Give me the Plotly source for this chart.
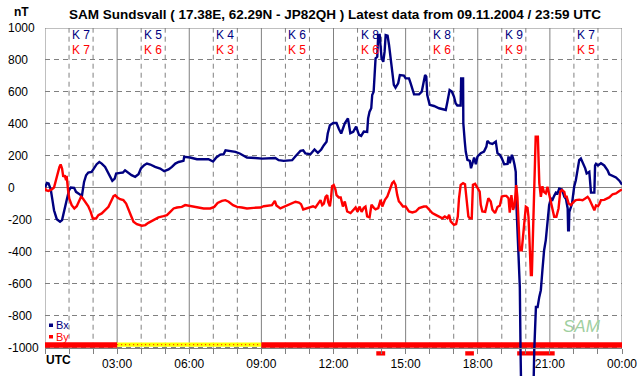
import plotly.graph_objects as go

# ---------------- data ----------------
bx_hours = [0.00, 0.08, 0.15, 0.24, 0.31, 0.375, 0.49, 0.625, 0.71, 0.79, 0.9, 1.0, 1.07, 1.21, 1.29, 1.39, 1.46, 1.53,
            1.57, 1.625, 1.71, 1.8, 1.94, 2.04, 2.15, 2.26, 2.36, 2.5, 2.6, 2.71, 2.8, 2.9, 2.96, 3.125, 3.24, 3.33,
            3.47, 3.6, 3.75, 3.89, 3.99, 4.125, 4.24, 4.38, 4.58, 4.79, 4.96, 5.14, 5.28, 5.42, 5.56, 5.76, 5.79,
            6.04, 6.32, 6.6, 6.8, 6.99, 7.125, 7.29, 7.43, 7.51, 7.71, 7.92, 8.1, 8.26, 8.4, 8.75, 9.03, 9.58, 9.72,
            9.93, 10.28, 10.42, 10.625, 10.74, 10.83, 11.04, 11.21, 11.35, 11.49, 11.6, 11.71, 11.76, 11.85, 11.99,
            12.125, 12.22, 12.32, 12.47, 12.6, 12.7, 12.82, 12.94, 13.06, 13.15, 13.26, 13.4, 13.44, 13.5, 13.57,
            13.61, 13.67, 13.71, 13.75, 13.82, 13.86, 13.92, 13.96, 14.0, 14.07, 14.125, 14.17, 14.25, 14.31,
            14.375, 14.44, 14.51, 14.58, 14.69, 14.76, 14.93, 15.0, 15.14, 15.21, 15.28, 15.35, 15.56, 15.67, 15.74,
            15.81, 15.86, 15.9, 16.0, 16.18, 16.39, 16.67, 16.74, 16.83, 16.92, 17.01, 17.08, 17.15, 17.29, 17.31,
            17.39, 17.4, 17.46, 17.5, 17.57, 17.67, 17.72, 17.78, 17.85, 17.92, 17.99, 18.125, 18.26, 18.36, 18.4,
            18.5, 18.61, 18.75, 18.82, 18.92, 19.0, 19.1, 19.24, 19.28, 19.33, 19.42, 19.47, 19.53, 19.58, 19.6,
            19.69, 19.75, 19.78, 19.82, 20.3, 20.35, 20.42, 20.49, 20.56, 20.625, 20.69, 20.76, 20.83, 20.9, 20.97,
            21.04, 21.11, 21.18, 21.25, 21.32, 21.39, 21.5, 21.6, 21.67, 21.74, 21.76, 21.79, 21.81, 21.92, 22.01,
            22.08, 22.15, 22.22, 22.29, 22.39, 22.47, 22.53, 22.64, 22.71, 22.85, 22.88, 22.92, 23.0, 23.125, 23.26,
            23.4, 23.47, 23.61, 23.75, 23.89, 24.0]
bx_values = [0, 30, 27, -10, -77, -140, -196, -212, -202, -140, -77, -15, 2, 0, -25, -35, -42, -56,
             -10, 37, 79, 96, 100, 121, 148, 162, 152, 131, 100, 69, 44, 58, 90, 94, 96, 110,
             94, 79, 69, 85, 121, 142, 152, 146, 131, 121, 104, 115, 131, 152, 162, 169, 194,
             190, 179, 177, 179, 165, 190, 208, 210, 235, 231, 225, 215, 204, 190, 187, 183, 187, 173,
             169, 173, 198, 231, 235, 215, 210, 240, 219, 240, 267, 288, 340, 392, 406,
             406, 370, 340, 404, 435, 342, 350, 383, 331, 325, 352, 350, 435, 477, 498,
             581, 602, 706, 810, 820, 956, 956, 852, 810, 789, 852, 956, 952, 894,
             810, 717, 644, 627, 654, 706, 702, 685, 685, 654, 612, 585, 585, 602, 654,
             706, 696, 581, 519, 512, 498, 487, 540, 612, 602, 571, 529, 515, 515, 685,
             685, 404, 290, 227, 175, 169, 123, 148, 190, 148, 196, 217, 227, 258, 294,
             279, 275, 290, 217, 206, 185, 148, 150, 196, 154, 206, 185, 144, 100, -77,
             -390, -620, -1016, -1400, -1400, -1016, -745, -745, -682, -640, -515, -390, -327, -202, -108,
             -66, -75, -50, -30, -35, -4, -10, -56, -70, -129, -265, -265, -150, -100, 7,
             48, 111, 174, 184, 153, 122, 90, 100, -30, -30, 140, 150, 140, 154, 140,
             110, 85, 75, 65, 45, 20]

by_hours = [0.0, 0.04, 0.14, 0.28, 0.375, 0.46, 0.51, 0.6, 0.65, 0.71, 0.76, 0.82, 0.875, 0.9, 0.96, 1.01, 1.11,
            1.22, 1.32, 1.43, 1.5, 1.57, 1.67, 1.8, 1.9, 1.99, 2.125, 2.22, 2.36, 2.5, 2.64, 2.74, 2.85, 2.92,
            3.01, 3.125, 3.26, 3.375, 3.47, 3.57, 3.68, 3.82, 4.03, 4.17, 4.3, 4.44, 4.58, 4.72, 4.93, 5.07,
            5.21, 5.35, 5.49, 5.69, 5.83, 6.04, 6.32, 6.6, 6.875, 7.04, 7.18, 7.36, 7.5, 7.64, 7.82, 7.99,
            8.19, 8.4, 8.68, 8.96, 9.1, 9.31, 9.44, 9.56, 9.625, 9.79, 9.93, 10.07, 10.21, 10.42, 10.56,
            10.65, 10.74, 10.875, 11.04, 11.15, 11.25, 11.35, 11.46, 11.53, 11.6, 11.67, 11.74, 11.78, 11.85,
            11.9, 11.94, 12.01, 12.08, 12.125, 12.22, 12.3, 12.39, 12.47, 12.57, 12.71, 12.8, 12.92, 13.0,
            13.08, 13.17, 13.26, 13.33, 13.4, 13.5, 13.58, 13.68, 13.75, 13.86, 13.96, 14.03, 14.14, 14.24,
            14.31, 14.375, 14.44, 14.51, 14.58, 14.65, 14.72, 14.79, 14.89, 15.0, 15.14, 15.28, 15.42, 15.56,
            15.76, 15.86, 15.97, 16.11, 16.25, 16.39, 16.53, 16.63, 16.74, 16.81, 16.875, 17.01, 17.1, 17.17,
            17.22, 17.29, 17.39, 17.47, 17.53, 17.61, 17.67, 17.75, 17.8, 17.89, 17.99, 18.08, 18.125, 18.19,
            18.31, 18.375, 18.44, 18.54, 18.61, 18.72, 18.82, 18.92, 19.0, 19.1, 19.19, 19.28, 19.33, 19.4,
            19.47, 19.53, 19.6, 19.65, 19.69, 19.75, 19.83, 19.89, 19.93, 20.0, 20.07, 20.11, 20.14, 20.18,
            20.21, 20.25, 20.28, 20.31, 20.35, 20.39, 20.41, 20.5, 20.53, 20.56, 20.625, 20.69, 20.75, 20.83,
            20.9, 20.97, 21.04, 21.11, 21.18, 21.27, 21.36, 21.4, 21.43, 21.5, 21.6, 21.65, 21.69, 21.78,
            21.875, 21.97, 22.08, 22.22, 22.36, 22.47, 22.57, 22.64, 22.71, 22.78, 22.85, 22.92, 23.0, 23.06,
            23.125, 23.26, 23.4, 23.47, 23.61, 23.75, 23.89, 24.0]
by_values = [0, -15, -19, -10, 2, 48, 90, 131, 146, 121, 69, 79, 48, 75, -15, -67, -108,
             -129, -115, -77, -56, -66, -87, -115, -150, -192, -192, -171, -160, -140, -119, -87, -52, -46,
             -60, -71, -77, -98, -129, -171, -212, -227, -237, -233, -219, -206, -198, -185, -177, -171,
             -150, -129, -123, -119, -108, -115, -123, -129, -129, -119, -94, -81, -77, -87, -108, -119,
             -123, -129, -125, -123, -115, -110, -108, -81, -110, -129, -119, -108, -98, -87, -92,
             -102, -135, -129, -119, -115, -123, -98, -77, -108, -98, -56, -46, -90, -115,
             -60, 10, 17, -10, -46, -60, -60, -117, -85, -148, -158, -140, -123, -150,
             -117, -150, -125, -117, -179, -185, -106, -125, -135, -127, -75, -117, -75, -54,
             -23, 8, 29, 40, 19, -44, -85, -96, -117, -117, -148, -154, -148, -127,
             -117, -117, -138, -158, -169, -179, -190, -179, -190, -169, -210, -231, -227, -179,
             -65, 19, 29, 23, -85, -179, -190, -190, 19, 25, 0, -23, -106, -148,
             -150, -106, -65, -85, -137, -158, -120, -110, -54, -50, -50, -65, -155, -46,
             -137, -110, 17, -60, -223, -390, -390, -285, -223, -118, -125, -181, -285, -432,
             -546, -546, -348, -139, 111, 236, 320, 320, 200, 30, -56, 10, -25, -35,
             7, -40, -77, -120, -181, -181, -129, -70, -25, -14, -25, -60, -50, -98,
             -108, -90, -77, -74, -77, -67, -56, -70, -96, -120, -140, -110, -115, -100,
             -77, -75, -65, -60, -40, -35, -20, -10]

k_centers = [1.5, 4.5, 7.5, 10.5, 13.5, 16.5, 19.5, 22.5]
k_bx = [7, 5, 4, 6, 8, 8, 9, 7]
k_by = [7, 6, 3, 5, 6, 6, 9, 5]

y_ticks = [1000, 800, 600, 400, 200, 0, -200, -400, -600, -800, -1000]
x_hours = list(range(25))
x_labels = ["" if (h % 3 or h == 0) else f"{h % 24:02d}:00" for h in x_hours]

status_start = [0, 3, 9]
status_end = [3, 9, 24]
status_kind = ["ok", "partial", "ok"]

alert_start = [13.78, 17.48, 19.64]
alert_end = [14.15, 17.84, 21.2]

# ---------------- styling ----------------
NAVY = "#000080"
RED = "#FF0000"
GRID = "#808080"
FONT = "Liberation Sans, Arial, sans-serif"
Y_MIN, Y_MAX = -1177, 1000
W, H = 642, 376
ML, MR, MT, MB = 45, 20, 28, 0
PW, PH = W - ML - MR, H - MT - MB


def px_x(p):
    return (p - ML) / PW


def px_y(p):
    return (H - MB - p) / PH


fig = go.Figure()
fig.add_trace(go.Scatter(x=bx_hours, y=bx_values, mode="lines", name="Bx",
                         line=dict(color=NAVY, width=2.4), showlegend=False))
fig.add_trace(go.Scatter(x=by_hours, y=by_values, mode="lines", name="By",
                         line=dict(color=RED, width=2.4), showlegend=False))

shapes = []
# vertical grid lines
for h in x_hours:
    solid = (h % 3 == 0)
    shapes.append(dict(type="line", xref="x", yref="y", x0=h, x1=h, y0=-1000, y1=1000, layer="between",
                       line=dict(color=GRID, width=1, dash="solid" if solid else "5px,4px")))
# top border
shapes.append(dict(type="line", xref="x", yref="y", x0=0, x1=24, y0=1000, y1=1000, layer="between",
                   line=dict(color=GRID, width=1)))
# status band
for s, e, k in zip(status_start, status_end, status_kind):
    if k == "ok":
        shapes.append(dict(type="rect", xref="x", yref="y", x0=s, x1=e, y0=-1000, y1=-966, layer="between",
                           line=dict(width=0), fillcolor=RED))
    else:
        shapes.append(dict(type="rect", xref="x", yref="y", x0=s, x1=e, y0=-994, y1=-968, layer="between",
                           line=dict(width=0), fillcolor="#FFFF00"))
        shapes.append(dict(type="line", xref="x", yref="y", x0=s, x1=e, y0=-981, y1=-981, layer="between",
                           line=dict(color=RED, width=1, dash="1px,3px")))
# alert bars below axis
for s, e in zip(alert_start, alert_end):
    shapes.append(dict(type="rect", xref="x", yref="y", x0=s, x1=e, y0=-1049, y1=-1022, layer="between",
                       line=dict(width=0), fillcolor=RED))
# legend squares
shapes.append(dict(type="rect", xref="paper", yref="paper", x0=px_x(49), x1=px_x(53), y0=px_y(327), y1=px_y(323.5),
                   line=dict(width=0), fillcolor=NAVY))
shapes.append(dict(type="rect", xref="paper", yref="paper", x0=px_x(49), x1=px_x(53), y0=px_y(338.5), y1=px_y(335),
                   line=dict(width=0), fillcolor=RED))

ann = []
ann.append(dict(text="<b>SAM Sundsvall ( 17.38E, 62.29N - JP82QH ) Latest data from 09.11.2004 / 23:59 UTC</b>",
                xref="paper", yref="paper", x=px_x(335), y=px_y(14), showarrow=False,
                xanchor="center", yanchor="middle", font=dict(size=13.5, color="black", family=FONT)))
ann.append(dict(text="<b>nT</b>", xref="paper", yref="paper", x=px_x(21), y=px_y(12), showarrow=False,
                xanchor="center", yanchor="middle", font=dict(size=12, color="black", family=FONT)))
ann.append(dict(text="<b>UTC</b>", xref="paper", yref="paper", x=px_x(44), y=px_y(360), showarrow=False,
                xanchor="left", yanchor="middle", font=dict(size=12, color="black", family=FONT)))
for v in y_ticks:
    ann.append(dict(text=str(v), xref="paper", yref="y", x=px_x(6), y=v, showarrow=False,
                    xanchor="left", yanchor="middle", font=dict(size=12, color="black", family=FONT)))
for c, kb, kr in zip(k_centers, k_bx, k_by):
    ann.append(dict(text=f"K {kb}", xref="x", yref="paper", x=c, y=px_y(35), showarrow=False,
                    xanchor="center", yanchor="middle", font=dict(size=12, color=NAVY, family=FONT)))
    ann.append(dict(text=f"K {kr}", xref="x", yref="paper", x=c, y=px_y(50), showarrow=False,
                    xanchor="center", yanchor="middle", font=dict(size=12, color=RED, family=FONT)))
ann.append(dict(text="Bx", xref="paper", yref="paper", x=px_x(54), y=px_y(325), showarrow=False,
                xanchor="left", yanchor="middle", font=dict(size=11, color=NAVY, family=FONT)))
ann.append(dict(text="By", xref="paper", yref="paper", x=px_x(54), y=px_y(337), showarrow=False,
                xanchor="left", yanchor="middle", font=dict(size=11, color=RED, family=FONT)))
ann.append(dict(text="<i>SAM</i>", xref="paper", yref="paper", x=px_x(582), y=px_y(326), showarrow=False,
                xanchor="center", yanchor="middle", font=dict(size=17, color="#9fcf9f", family=FONT)))

axis_pos = (-1000 - Y_MIN) / (Y_MAX - Y_MIN)

fig.update_layout(
    width=W, height=H,
    margin=dict(l=ML, r=MR, t=MT, b=MB, autoexpand=False),
    paper_bgcolor="white", plot_bgcolor="white",
    font=dict(family=FONT, size=12, color="black"),
    showlegend=False,
    shapes=shapes, annotations=ann,
    xaxis=dict(range=[0, 24], tickmode="array", tickvals=x_hours, ticktext=x_labels,
               ticks="outside", ticklen=5, tickcolor=GRID, tickwidth=1,
               showline=True, linecolor=GRID, linewidth=1, automargin=False,
               anchor="free", position=axis_pos, showgrid=False, zeroline=False,
               tickfont=dict(size=12, color="black", family=FONT)),
    yaxis=dict(range=[Y_MIN, Y_MAX], tickmode="array", tickvals=y_ticks, showticklabels=False,
               showgrid=True, gridcolor=GRID, gridwidth=1, griddash="5px,4px", automargin=False,
               zeroline=True, zerolinecolor=GRID, zerolinewidth=1, showline=False, ticks=""),
)

fig.write_html("out.html", config={"displayModeBar": False, "staticPlot": True},
               post_script="document.body.style.margin='0';document.body.style.padding='0';")
